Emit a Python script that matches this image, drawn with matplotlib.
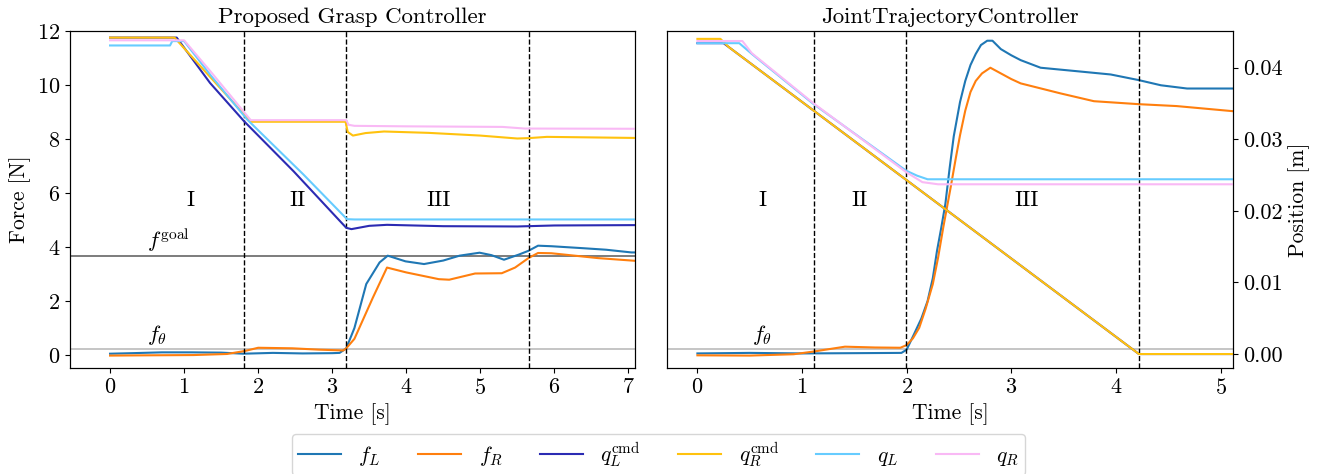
import matplotlib
matplotlib.use('Agg')
import matplotlib.pyplot as plt

plt.rcParams['font.family'] = 'cmr10'
plt.rcParams['mathtext.fontset'] = 'cm'
plt.rcParams['axes.formatter.use_mathtext'] = True
plt.rcParams['font.size'] = 15.5
plt.rcParams['xtick.labelsize'] = 16
plt.rcParams['ytick.labelsize'] = 16

# colours
c_fL = '#1f77b4'
c_fR = '#ff7f0e'
c_qLcmd = '#2b2bb3'
c_qRcmd = '#ffc20e'
c_qL = '#66ccff'
c_qR = '#f9b9f5'

# ---------------- Proposed Grasp Controller (left) ----------------
# forces [N]
gc_fL_t = [0, 0.3, 0.7, 1.1, 1.5, 1.8, 2.2, 2.6, 3.0, 3.1, 3.19, 3.3, 3.46, 3.64, 3.75, 3.99,
           4.24, 4.5, 4.72, 4.99, 5.15, 5.32, 5.52, 5.65, 5.78, 5.96, 6.37, 6.7, 7.04, 7.09]
gc_fL = [0.05, 0.07, 0.1, 0.1, 0.09, 0.05, 0.08, 0.06, 0.07, 0.08, 0.25, 1.0, 2.63, 3.43, 3.68, 3.47,
         3.37, 3.5, 3.68, 3.79, 3.7, 3.53, 3.72, 3.86, 4.05, 4.03, 3.96, 3.9, 3.8, 3.8]
gc_fR_t = [0, 0.5, 1.13, 1.58, 1.82, 2.0, 2.46, 2.82, 3.15, 3.19, 3.3, 3.55, 3.74, 4.0, 4.44,
           4.58, 4.93, 5.29, 5.47, 5.65, 5.78, 5.96, 6.59, 7.09]
gc_fR = [-0.02, -0.01, 0.0, 0.04, 0.15, 0.27, 0.25, 0.2, 0.17, 0.25, 0.6, 2.13, 3.24, 3.06, 2.81,
         2.79, 3.02, 3.03, 3.24, 3.59, 3.78, 3.77, 3.59, 3.49]
# positions [m]
gc_qLcmd_t = [0, 0.9, 1.35, 1.81, 2.48, 3.19, 3.26, 3.5, 3.74, 4.5, 5.5, 6.0, 7.09]
gc_qLcmd = [0.04418, 0.04418, 0.03785, 0.03250, 0.02550, 0.01762, 0.01744, 0.01790, 0.01804,
            0.01785, 0.01781, 0.01795, 0.01800]
gc_qRcmd_t = [0, 0.87, 1.9, 3.18, 3.21, 3.28, 3.45, 3.7, 4.3, 5.0, 5.5, 5.66, 5.9, 7.09]
gc_qRcmd = [0.04418, 0.04418, 0.03243, 0.03243, 0.03100, 0.03050, 0.03085, 0.03107, 0.03088,
            0.03050, 0.03009, 0.03015, 0.03032, 0.03017]
gc_qL_t = [0, 0.81, 0.84, 1.0, 1.35, 1.85, 2.61, 3.2, 3.3, 7.09]
gc_qL = [0.04308, 0.04308, 0.04369, 0.04369, 0.03902, 0.03276, 0.02508, 0.01883, 0.01879, 0.01879]
gc_qR_t = [0, 1.0, 1.35, 1.9, 3.19, 3.22, 3.3, 4.0, 5.3, 5.6, 7.09]
gc_qR = [0.04380, 0.04380, 0.03954, 0.03265, 0.03265, 0.03201, 0.03186, 0.03179, 0.03171,
         0.03148, 0.03145]
gc_phases = [1.81, 3.19, 5.66]

# ---------------- JointTrajectoryController (right) ----------------
jt_fL_t = [0, 0.5, 1.0, 1.5, 1.95, 2.0, 2.07, 2.14, 2.2, 2.25, 2.29, 2.33, 2.37, 2.41, 2.45, 2.51,
           2.56, 2.61, 2.66, 2.71, 2.77, 2.82, 2.9, 3.0, 3.09, 3.28, 3.63, 3.95, 4.22, 4.43, 4.68, 5.12]
jt_fL = [0.06, 0.08, 0.06, 0.07, 0.08, 0.2, 0.77, 1.35, 2.0, 2.85, 3.86, 4.7, 5.6, 6.9, 8.1, 9.37,
         10.15, 10.74, 11.15, 11.48, 11.64, 11.64, 11.33, 11.1, 10.92, 10.64, 10.51, 10.39, 10.18,
         9.99, 9.87, 9.87]
jt_fR_t = [0, 0.5, 0.92, 1.11, 1.41, 1.7, 1.94, 2.0, 2.06, 2.12, 2.18, 2.25, 2.3, 2.35, 2.42, 2.47,
           2.51, 2.56, 2.61, 2.66, 2.72, 2.8, 2.9, 3.0, 3.09, 3.47, 3.79, 4.22, 4.58, 5.12]
jt_fR = [-0.01, -0.02, 0.03, 0.13, 0.31, 0.28, 0.27, 0.37, 0.62, 1.01, 1.7, 2.63, 3.6, 4.73, 6.2,
         7.3, 8.14, 9.05, 9.74, 10.15, 10.43, 10.64, 10.43, 10.22, 10.06, 9.69, 9.4, 9.29, 9.22, 9.03]
jt_qLcmd_t = [0, 0.25, 4.22, 5.12]
jt_qLcmd = [0.0434, 0.0434, 0.0, 0.0]
jt_qRcmd_t = [0, 0.22, 0.3, 4.22, 5.12]
jt_qRcmd = [0.0440, 0.0440, 0.04285, 0.0, 0.0]
jt_qL_t = [0, 0.4, 0.52, 1.11, 1.995, 2.1, 2.2, 5.12]
jt_qL = [0.0434, 0.0434, 0.0419, 0.0349, 0.0256, 0.0249, 0.0244, 0.0244]
jt_qR_t = [0, 0.43, 0.52, 1.11, 1.995, 2.15, 2.3, 5.12]
jt_qR = [0.0437, 0.0437, 0.0420, 0.0350, 0.0254, 0.0240, 0.0237, 0.0237]
jt_phases = [1.11, 1.995, 4.22]

f_goal = 3.68
f_theta = 0.21

fig = plt.figure(figsize=(13.17, 4.74), dpi=100)
ax1 = fig.add_axes([0.0532, 0.2236, 0.4290, 0.711])
ax2 = fig.add_axes([0.5065, 0.2236, 0.4298, 0.711], sharey=ax1)
tw1 = ax1.twinx()
tw2 = ax2.twinx()


def draw(ax, tw, fl_t, fl, fr_t, fr, qlc_t, qlc, qrc_t, qrc, ql_t, ql, qr_t, qr, phases):
    ax.plot(fl_t, fl, color=c_fL, lw=1.5, label=r'$f_L$')
    ax.plot(fr_t, fr, color=c_fR, lw=1.5, label=r'$f_R$')
    tw.plot(qlc_t, qlc, color=c_qLcmd, lw=1.5, label=r'$q_L^{\mathrm{cmd}}$')
    tw.plot(qrc_t, qrc, color=c_qRcmd, lw=1.5, label=r'$q_R^{\mathrm{cmd}}$')
    tw.plot(ql_t, ql, color=c_qL, lw=1.5, label=r'$q_L$')
    tw.plot(qr_t, qr, color=c_qR, lw=1.5, label=r'$q_R$')
    for p in phases:
        ax.axvline(p, color='k', ls='--', lw=1)
    ax.axhline(f_theta, color='#bbbbbb', lw=1.2, zorder=1)
    tw.set_ylim(-0.00195, 0.0451)


draw(ax1, tw1, gc_fL_t, gc_fL, gc_fR_t, gc_fR, gc_qLcmd_t, gc_qLcmd, gc_qRcmd_t, gc_qRcmd,
     gc_qL_t, gc_qL, gc_qR_t, gc_qR, gc_phases)
draw(ax2, tw2, jt_fL_t, jt_fL, jt_fR_t, jt_fR, jt_qLcmd_t, jt_qLcmd, jt_qRcmd_t, jt_qRcmd,
     jt_qL_t, jt_qL, jt_qR_t, jt_qR, jt_phases)

ax1.axhline(f_goal, color='#666666', lw=1.2, zorder=1)
ax1.text(0.5, f_goal + 0.28, r'$f^{\mathrm{goal}}$', fontsize=16)
ax1.text(0.5, f_theta + 0.32, r'$f_\theta$', fontsize=16)
ax2.text(0.52, f_theta + 0.32, r'$f_\theta$', fontsize=16)

for x, s in zip([1.09, 2.53, 4.43], ['I', 'II', 'III']):
    ax1.text(x, 5.75, s, ha='center', va='center', fontsize=16)
for x, s in zip([0.62, 1.55, 3.15], ['I', 'II', 'III']):
    ax2.text(x, 5.75, s, ha='center', va='center', fontsize=16)

ax1.set_ylim(-0.48, 12.0)
ax1.set_xlim(-0.54, 7.09)
ax2.set_xlim(-0.29, 5.12)
ax1.set_yticks([0, 2, 4, 6, 8, 10, 12])
ax1.set_xticks(range(0, 8))
ax2.set_xticks(range(0, 6))
tw2.set_yticks([0.0, 0.01, 0.02, 0.03, 0.04])
tw2.set_yticklabels(['0.00', '0.01', '0.02', '0.03', '0.04'])

tw1.tick_params(right=False, labelright=False)
ax2.tick_params(left=False, labelleft=False)

ax1.set_title('Proposed Grasp Controller', fontsize=16.5)
ax2.set_title('JointTrajectoryController', fontsize=16.5)
ax1.set_xlabel('Time [s]')
ax2.set_xlabel('Time [s]')
ax1.set_ylabel('Force [N]')
tw2.set_ylabel('Position [m]')

h1, l1 = ax2.get_legend_handles_labels()
h2, l2 = tw2.get_legend_handles_labels()
fig.legend(h1 + h2, l1 + l2, loc='upper center', bbox_to_anchor=(0.5, 0.085), ncol=6,
           fontsize=15.5, frameon=True, borderaxespad=0, borderpad=0.3,
           handletextpad=0.8, columnspacing=1.75)

plt.savefig('out.png', dpi=100)
